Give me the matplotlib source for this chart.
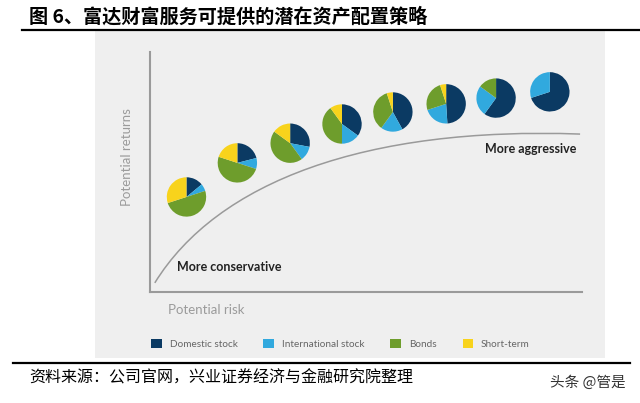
import matplotlib
matplotlib.use('Agg')
import matplotlib.pyplot as plt
from matplotlib.patches import Rectangle, Patch, PathPatch
from matplotlib.path import Path
from matplotlib.lines import Line2D

# ---------------- data ----------------
categories = ['Domestic stock', 'International stock', 'Bonds', 'Short-term']
colors = ['#0b3a63', '#31a9de', '#6e9d2c', '#f8d31c']
domestic = [14, 21, 28, 35, 42, 49, 60, 70]
international = [6, 9, 12, 15, 18, 21, 25, 30]
bonds = [50, 50, 45, 40, 35, 25, 15, 0]
short_term = [30, 20, 15, 10, 5, 5, 0, 0]
risk = [0.76, 1.82, 2.92, 4.00, 5.06, 6.17, 7.21, 8.33]
returns = [1.98, 2.69, 3.10, 3.50, 3.75, 3.92, 4.04, 4.17]
frontier_ctrl = [(0.10, 0.19), (1.4, 2.3), (4.5, 3.45), (8.96, 3.29)]

title = '图 6、富达财富服务可提供的潜在资产配置策略'
source = '资料来源：公司官网，兴业证券经济与金融研究院整理'
watermark = '头条 @管是'

CJK = ['Noto Sans CJK SC', 'DejaVu Sans']
EN = 'Lato'

fig = plt.figure(figsize=(6.4, 4.03), dpi=100)
fig.patch.set_facecolor('white')

# grey panel
fig.patches.append(Rectangle((0.1484, 0.112), 0.797, 0.811, transform=fig.transFigure,
                             facecolor='#efefef', edgecolor='none', zorder=-5))
# rules
fig.lines.append(Line2D([0.034, 1.0], [0.925, 0.925], transform=fig.transFigure,
                        color='black', lw=1.6, zorder=-4))
fig.lines.append(Line2D([0.02, 0.985], [0.099, 0.099], transform=fig.transFigure,
                        color='black', lw=1.6, zorder=-4))

fig.text(0.045, 0.958, title, family=CJK, fontsize=13.8, fontweight='bold',
         ha='left', va='center', color='black')
fig.text(0.045, 0.062, source, family=CJK, fontsize=11.5, ha='left', va='center',
         color='black')
fig.text(0.977, 0.05, watermark, family=CJK, fontsize=10.5, ha='right', va='center',
         color='#333333')

ax = fig.add_axes([150 / 640, 111 / 403, 432 / 640, 240 / 403])
ax.set_facecolor('none')
ax.set_zorder(2)

for i in range(len(risk)):
    vals = [domestic[i], international[i], bonds[i], short_term[i]]
    v = [x for x in vals if x > 0]
    c = [colors[k] for k, x in enumerate(vals) if x > 0]
    ax.pie(v, colors=c, center=(risk[i], returns[i]), radius=0.41, startangle=90,
           counterclock=False, frame=True,
           wedgeprops=dict(edgecolor='none', linewidth=0))

path = Path(frontier_ctrl, [Path.MOVETO, Path.CURVE4, Path.CURVE4, Path.CURVE4])
ax.add_patch(PathPatch(path, facecolor='none', edgecolor='#9a9a9a', lw=1.1))

ax.set_xlim(0, 9)
ax.set_ylim(0, 5)
ax.set_aspect('equal')
ax.set_xticks([])
ax.set_yticks([])
for s in ['top', 'right']:
    ax.spines[s].set_visible(False)
for s in ['left', 'bottom']:
    ax.spines[s].set_color('#9a9a9a')
    ax.spines[s].set_linewidth(1.5)

ax.text(0.56, 0.52, 'More conservative', family=EN, fontsize=9, fontweight='bold',
        color='#222222', ha='left', va='center')
ax.text(8.875, 2.98, 'More aggressive', family=EN, fontsize=9, fontweight='bold',
        color='#222222', ha='right', va='center')

ax.text(-0.053, 0.5625, 'Potential returns', transform=ax.transAxes, rotation=90,
        family=EN, fontsize=9.5, color='#9b9b9b', ha='center', va='center')
ax.text(0.042, -0.075, 'Potential risk', transform=ax.transAxes,
        family=EN, fontsize=9.5, color='#9b9b9b', ha='left', va='center')

handles = [Patch(facecolor=c, edgecolor='none') for c in colors]
fig.legend(handles, categories, loc='center', bbox_to_anchor=(0.532, 0.146), ncol=4,
           frameon=False, prop=dict(family=EN, size=7.2), labelcolor='#666666',
           handlelength=1.05, handleheight=1.05, handletextpad=0.8, columnspacing=2.6)

fig.savefig('out.png', dpi=100, facecolor='white')
